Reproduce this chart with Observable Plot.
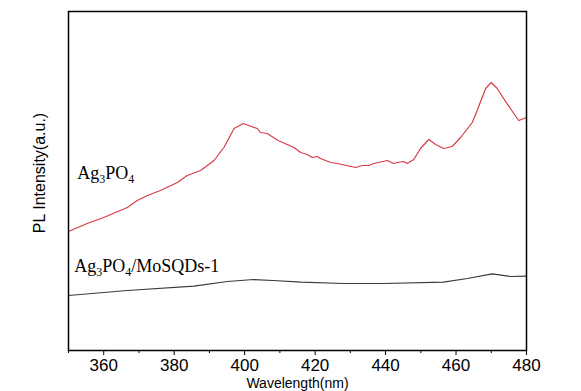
<!DOCTYPE html>
<html><head><meta charset="utf-8">
<script src="https://cdn.jsdelivr.net/npm/d3@7"></script>
<script src="https://cdn.jsdelivr.net/npm/@observablehq/plot@0.6"></script>
<style>body{margin:0;background:#fff;} svg{display:block;}</style>
</head><body><div id="chart"></div>
<script>
// Ag3PO4 (red)
const redWavelength = [350.0,355.3,360.0,366.7,369.5,372.4,376.1,380.9,383.7,387.5,391.3,394.1,397.0,399.6,403.6,404.5,406.4,409.5,414.0,415.9,417.8,419.2,420.6,421.5,424.4,426.3,431.5,433.4,435.2,436.7,440.5,442.3,443.3,445.2,446.1,448.0,449.9,452.3,454.2,456.5,458.9,461.3,464.6,466.0,468.4,470.0,471.7,473.5,476.4,477.8,480.0];
const redIntensity  = [119,127,133,143,150,155,160,168,175,180,190,203,222,227,222,218,217,210,203,198,196,193,194,192,188,187,183,185,185,187,190,187,188,189,187,191,202,211,206,202,204,213,228,240,262,268,262,252,237,230,233];
// Ag3PO4/MoSQDs-1 (black)
const blackWavelength = [350,366.7,385.6,395.1,402.5,408,416,428.1,439.4,456.4,463.2,470.3,475.4,480];
const blackIntensity  = [55,60,64.3,69,71,70,68.3,67,67,68.3,72,76.7,74,74.3];

const seriesNames = ["Ag3PO4", "Ag3PO4/MoSQDs-1"];
const seriesColors = ["#d63c45", "#3a3a3a"];
const labelWavelength = [352.5, 351.6];
const labelIntensity = [172, 79];

const majorTicks = [360,380,400,420,440,460,480];
const minorTicks = [350,370,390,410,430,450,470];
const xTitle = "Wavelength(nm)";
const yTitle = "PL Intensity(a.u.)";

const plot = Plot.plot({
  width: 581, height: 391,
  marginLeft: 68, marginRight: 55, marginTop: 11, marginBottom: 41,
  style: {fontFamily: "'Liberation Sans', Arial, sans-serif", fontSize: "17px", background: "#fff", color: "#000"},
  x: {domain: [350, 480], axis: null},
  y: {domain: [0, 339], axis: null},
  marks: [
    Plot.axisX({ticks: minorTicks, tickSize: 3, tickFormat: () => "", label: null}),
    Plot.axisX({ticks: majorTicks, tickSize: 5, tickPadding: 3, fontSize: 17, label: null}),
    Plot.axisX({ticks: [], label: xTitle, labelAnchor: "center", labelArrow: "none", labelOffset: 37, fontSize: 14}),
    Plot.line(redWavelength, {x: redWavelength, y: redIntensity, stroke: seriesColors[0], strokeWidth: 1.2}),
    Plot.line(blackWavelength, {x: blackWavelength, y: blackIntensity, stroke: seriesColors[1], strokeWidth: 1.2}),
    Plot.text(seriesNames, {x: labelWavelength, y: labelIntensity, text: seriesNames, textAnchor: "start", lineAnchor: "bottom", fontSize: 18, fontFamily: "'Liberation Serif', 'Times New Roman', serif", fill: "#000", className: "series-label"}),
    Plot.text([yTitle], {frameAnchor: "left", textAnchor: "middle", rotate: -90, dx: -29, dy: -8, fontSize: 16, fill: "#000"}),
    Plot.frame({stroke: "#000", strokeWidth: 1.5})
  ]
});
document.getElementById("chart").appendChild(plot);

// subscripts for chemical formulas
d3.select(plot).selectAll("g.series-label text").each(function() {
  const el = d3.select(this);
  const s = this.textContent;
  const parts = s.split(/(?<=[A-Za-z])(\d)/);
  el.text(null);
  let sub = false;
  parts.forEach((p, i) => {
    if (!p) return;
    const isSub = /^\d$/.test(p) && i % 2 === 1;
    const t = el.append("tspan").text(p);
    if (isSub) { t.attr("font-size", 12).attr("dy", sub ? null : 4); sub = true; }
    else { if (sub) t.attr("dy", -4); sub = false; }
  });
});
</script>
</body></html>
